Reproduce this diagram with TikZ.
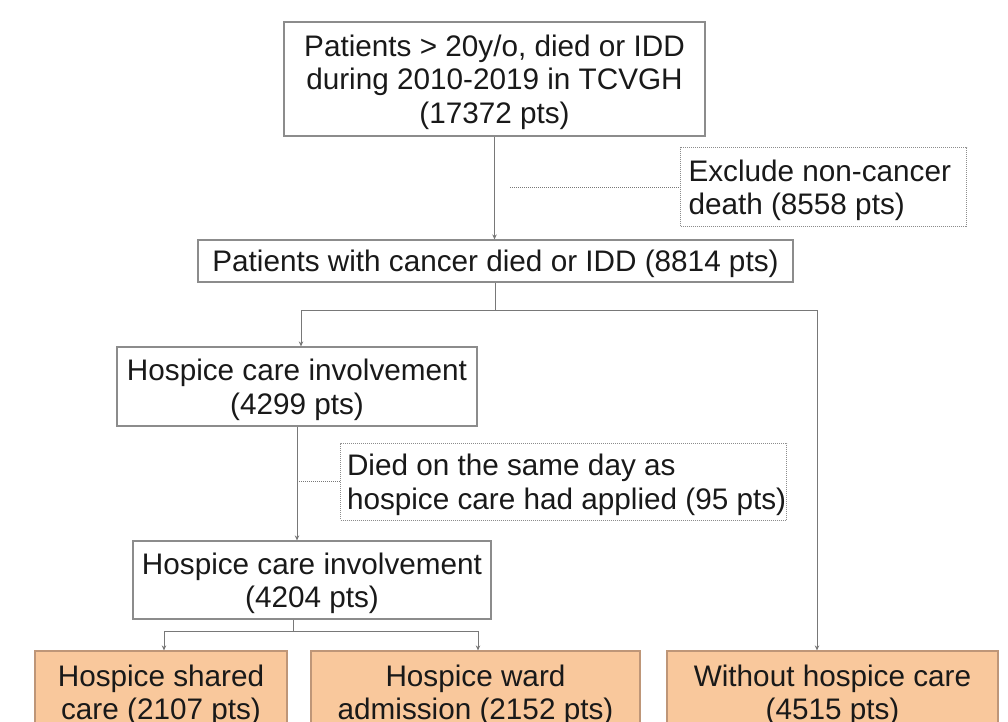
\documentclass[tikz,border=0pt]{standalone}
\usepackage{fontspec}
\setmainfont{Liberation Sans}
\usetikzlibrary{arrows.meta}
\definecolor{boxgray}{RGB}{140,140,140}
\definecolor{linegray}{RGB}{120,120,120}
\definecolor{orfill}{RGB}{249,200,156}
\definecolor{oredge}{RGB}{190,150,120}
\definecolor{txt}{RGB}{25,25,25}
\begin{document}
\begin{tikzpicture}[x=1pt,y=-1pt,
  every node/.style={font=\fontsize{29.7}{33.5}\selectfont, text=txt, text depth=0pt},
  box/.style={draw=boxgray, line width=1.2pt, inner sep=0pt, align=center},
  dbox/.style={draw=boxgray, line width=1pt, densely dotted, inner ysep=0pt, align=left},
  obox/.style={draw=oredge, fill=orfill, line width=1.2pt, inner sep=0pt, align=center},
  conn/.style={draw=linegray, line width=1pt},
  arr/.style={conn, -{Stealth[length=5pt,width=4.5pt]}},
  dotline/.style={draw=linegray, line width=1pt, densely dotted}]
\clip (0,0) rectangle (1008,721);
\useasboundingbox (0,0) rectangle (1008,721);

\node[box, minimum width=421pt, minimum height=114pt] (top) at (494.5,79)
  {Patients > 20y/o, died or IDD\\during 2010-2019 in TCVGH\\(17372 pts)};
\node[dbox, inner xsep=8pt, minimum height=79pt, anchor=west] (excl) at (680,187)
  {\makebox[270pt][l]{Exclude non-cancer}\\\makebox[270pt][l]{death (8558 pts)}};
\node[box, minimum width=595pt, minimum height=42pt] (cancer) at (495.5,261)
  {Patients with cancer died or IDD (8814 pts)};
\node[box, minimum width=360pt, minimum height=79pt] (h1) at (297,386.5)
  {Hospice care involvement\\(4299 pts)};
\node[dbox, inner xsep=1.5pt, minimum height=77pt, anchor=west] (died) at (340,481.5)
  {\makebox[443pt][l]{\hspace*{5pt}Died on the same day as}\\\makebox[443pt][l]{\hspace*{5pt}hospice care had applied (95 pts)}};
\node[box, minimum width=358pt, minimum height=78pt] (h2) at (312,580)
  {Hospice care involvement\\(4204 pts)};
\node[obox, minimum width=252pt, minimum height=82pt] (o1) at (161,692)
  {Hospice shared\\care (2107 pts)};
\node[obox, minimum width=329pt, minimum height=82pt] (o2) at (475.5,692)
  {Hospice ward\\admission (2152 pts)};
\node[obox, minimum width=331pt, minimum height=82pt] (o3) at (832.5,692)
  {Without hospice care\\(4515 pts)};

\coordinate (exs) at (510,187);
\draw[dotline] (exs) -- (excl.west);
\draw[arr] (top.south) -- (top.south |- cancer.north);

\draw[conn] (cancer.south) -- ++(0,28) coordinate (br);
\draw[arr] (br) -| ([xshift=4pt]h1.north);
\draw[arr] (br) -| ([xshift=-15.5pt]o3.north);

\draw[arr] (h1.south) -- (h1.south |- h2.north);
\draw[dotline] (h1.south |- died.west) -- (died.west);

\draw[conn] ([xshift=-19pt]h2.south) -- ++(0,12) coordinate (j);
\draw[arr] (j) -| ([xshift=3pt]o1.north);
\draw[arr] (j) -| ([xshift=2.5pt]o2.north);
\end{tikzpicture}
\end{document}
